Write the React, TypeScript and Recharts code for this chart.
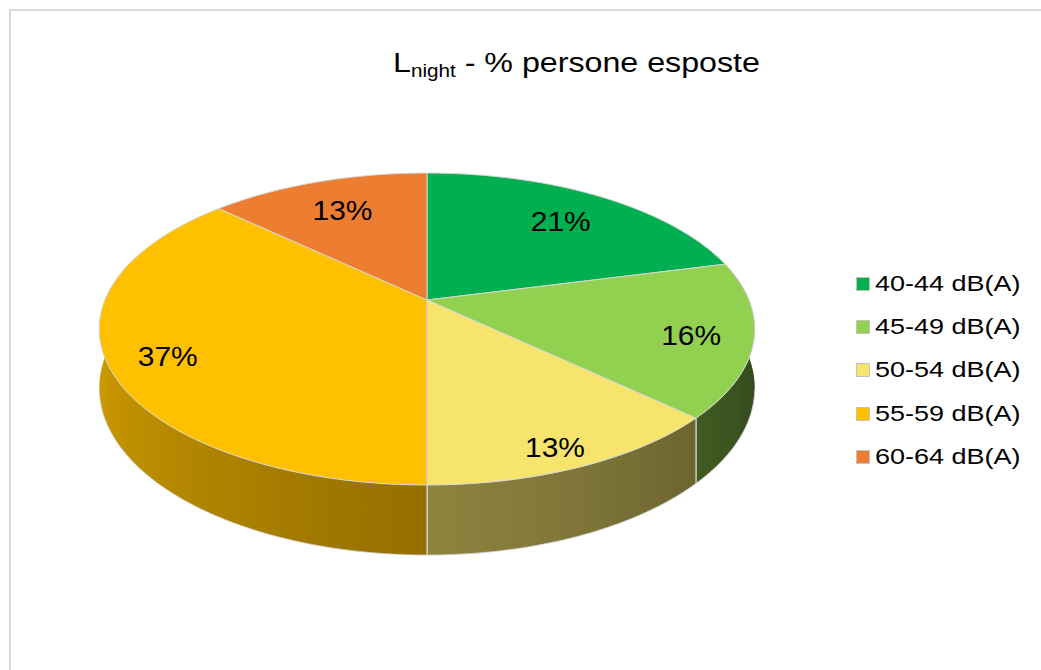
import React from 'react';
import { PieChart, Pie, Cell, Legend } from 'recharts';

const categories = ['40-44 dB(A)', '45-49 dB(A)', '50-54 dB(A)', '55-59 dB(A)', '60-64 dB(A)'];
const values = [21, 16, 13, 37, 13];
const colors = ['#00b050', '#92d050', '#f6e46c', '#ffc000', '#ed7d31'];
const titleMain = 'L';
const titleSub = 'night';
const titleRest = ' - % persone esposte';

const data = categories.map((name, i) => ({ name, value: values[i], fill: colors[i] }));

const FONT = '"Liberation Sans", Arial, Helvetica, sans-serif';
const TITLE_SX = 1.15;
const LABEL_SX = 1.07;
const LEGEND_SX = 1.2;
const TILT = 0.4677;
const K = -0.186;
const DEPTH = 57;

function project(cx: number, cy: number, r: number, angDeg: number, frac = 1) {
  const a = (angDeg * Math.PI) / 180;
  const u = Math.cos(a) * frac;
  const v = -Math.sin(a) * frac;
  const w = 1 + K * v;
  return { x: cx + (r * u) / w, y: cy + (r * TILT * v) / w, w, v };
}

function shade(hex: string, f: number) {
  const n = parseInt(hex.slice(1), 16);
  const r = Math.round(((n >> 16) & 255) * f);
  const g = Math.round(((n >> 8) & 255) * f);
  const b = Math.round((n & 255) * f);
  return `rgb(${r},${g},${b})`;
}

function lighting(ang: number) {
  let t = ang;
  while (t > 90) t -= 360;
  while (t <= -270) t += 360;
  const f = 0.82 - 0.003 * (170 + t);
  return Math.max(0.3, Math.min(0.86, f));
}

const TopShape = (props: any) => {
  const { cx, cy, outerRadius, startAngle, endAngle, fill } = props;
  const n = Math.max(2, Math.ceil(Math.abs(endAngle - startAngle)));
  let d = `M${cx},${cy}`;
  for (let i = 0; i <= n; i++) {
    const ang = startAngle + ((endAngle - startAngle) * i) / n;
    const p = project(cx, cy, outerRadius, ang);
    d += ` L${p.x.toFixed(2)},${p.y.toFixed(2)}`;
  }
  d += ' Z';
  return <path d={d} fill={fill} stroke="#d6d6d6" strokeWidth={1} strokeLinejoin="round" />;
};

const WallShape = (props: any) => {
  const { cx, cy, outerRadius, startAngle, endAngle, fill } = props;
  const n = Math.max(2, Math.ceil(Math.abs(endAngle - startAngle)));
  const top: { x: number; y: number; d: number; ang: number; v: number }[] = [];
  for (let i = 0; i <= n; i++) {
    const ang = startAngle + ((endAngle - startAngle) * i) / n;
    const p = project(cx, cy, outerRadius, ang);
    if (p.v < -0.3) continue;
    top.push({ x: p.x, y: p.y, d: DEPTH / p.w, ang, v: p.v });
  }
  if (top.length < 2) return <g />;
  const gid = `wallgrad-${Math.round(startAngle * 10)}-${Math.round(endAngle * 10)}`;
  const front = top.filter((p) => p.v >= -K);
  const gpts = front.length >= 2 ? front : top;
  let xmin = Infinity;
  let xmax = -Infinity;
  gpts.forEach((p) => {
    xmin = Math.min(xmin, p.x);
    xmax = Math.max(xmax, p.x);
  });
  const span = Math.max(1, xmax - xmin);
  const stops = gpts
    .map((p) => ({ off: (p.x - xmin) / span, col: shade(fill, lighting(p.ang)) }))
    .sort((a, b) => a.off - b.off);
  let d = `M${top[0].x},${top[0].y}`;
  for (let i = 1; i < top.length; i++) d += ` L${top[i].x},${top[i].y}`;
  for (let i = top.length - 1; i >= 0; i--) d += ` L${top[i].x},${top[i].y + top[i].d}`;
  d += ' Z';
  let bottom = '';
  front.forEach((p) => {
    bottom += `${bottom ? ' L' : 'M'}${p.x},${p.y + p.d}`;
  });
  const edges = [startAngle, endAngle].map((ang, j) => {
    const p = project(cx, cy, outerRadius, ang);
    if (p.v < 0) return null;
    return (
      <line key={`e${j}`} x1={p.x} y1={p.y} x2={p.x} y2={p.y + DEPTH / p.w} stroke="#e2e2e2" strokeWidth={1} />
    );
  });
  return (
    <g>
      <defs>
        <linearGradient id={gid} gradientUnits="userSpaceOnUse" x1={xmin} y1={0} x2={xmax} y2={0}>
          {stops.map((s, i) => (
            <stop key={i} offset={s.off} stopColor={s.col} />
          ))}
        </linearGradient>
      </defs>
      <path d={d} fill={`url(#${gid})`} stroke="none" />
      {edges}
      {bottom && <path d={bottom} fill="none" stroke="#cfcfcf" strokeWidth={0.8} />}
    </g>
  );
};

const renderLabel = (props: any) => {
  const { cx, cy, midAngle, outerRadius, value } = props;
  const mid = project(cx, cy, outerRadius, midAngle);
  const p = project(cx, cy, outerRadius, midAngle, 0.8 + 0.06 * mid.v);
  const y = p.y + 2 + 8 * Math.max(0, mid.v - 0.1);
  return (
    <text
      x={p.x}
      y={y}
      textAnchor="middle"
      dominantBaseline="central"
      fontSize={28}
      fontFamily={FONT}
      fill="#000"
      transform={`matrix(${LABEL_SX},0,0,1,${p.x * (1 - LABEL_SX)},0)`}
    >
      {`${value}%`}
    </text>
  );
};

const renderLegend = () => (
  <div style={{ fontFamily: FONT }}>
    {categories.map((c, i) => (
      <div key={c} style={{ height: 43.4, display: 'flex', alignItems: 'center' }}>
        <div
          style={{
            width: 12,
            height: 12,
            background: colors[i],
            border: '1px solid #c4c4c4',
            marginRight: 5,
            flex: 'none',
          }}
        />
        <div
          style={{
            fontSize: 22.5,
            lineHeight: '22px',
            color: '#000',
            whiteSpace: 'nowrap',
            transform: `scaleX(${LEGEND_SX})`,
            transformOrigin: 'left center',
          }}
        >
          {c}
        </div>
      </div>
    ))}
  </div>
);

export default function App() {
  const tx = 393;
  return (
    <div style={{ position: 'absolute', left: 0, top: 0, width: 1041, height: 670, overflow: 'hidden', background: '#fff' }}>
      <div
        style={{
          position: 'absolute',
          left: 9,
          top: 9,
          width: 1200,
          height: 800,
          borderLeft: '2px solid #d9d9d9',
          borderTop: '2px solid #d9d9d9',
        }}
      />
      <div style={{ position: 'absolute', left: 0, top: 0 }}>
        <PieChart width={1041} height={670} margin={{ top: 0, right: 0, bottom: 0, left: 0 }}>
          <text
            x={tx}
            y={72}
            fontSize={28}
            fontFamily={FONT}
            fill="#000"
            transform={`matrix(${TITLE_SX},0,0,1,${tx * (1 - TITLE_SX)},0)`}
          >
            <tspan>{titleMain}</tspan>
            <tspan fontSize={18} dy={5}>
              {titleSub}
            </tspan>
            <tspan dy={-5}>{titleRest}</tspan>
          </text>
          <Pie
            data={data}
            dataKey="value"
            nameKey="name"
            cx={427}
            cy={300}
            outerRadius={322}
            startAngle={90}
            endAngle={-270}
            isAnimationActive={false}
            legendType="none"
            shape={WallShape}
            label={false}
            labelLine={false}
          >
            {data.map((d) => (
              <Cell key={d.name} fill={d.fill} />
            ))}
          </Pie>
          <Pie
            data={data}
            dataKey="value"
            nameKey="name"
            cx={427}
            cy={300}
            outerRadius={322}
            startAngle={90}
            endAngle={-270}
            isAnimationActive={false}
            shape={TopShape}
            label={renderLabel}
            labelLine={false}
          >
            {data.map((d) => (
              <Cell key={d.name} fill={d.fill} />
            ))}
          </Pie>
          <Legend
            layout="vertical"
            align="right"
            verticalAlign="middle"
            content={renderLegend}
            wrapperStyle={{ left: 856, top: 262, width: 185, right: 'auto', bottom: 'auto' }}
          />
        </PieChart>
      </div>
    </div>
  );
}
